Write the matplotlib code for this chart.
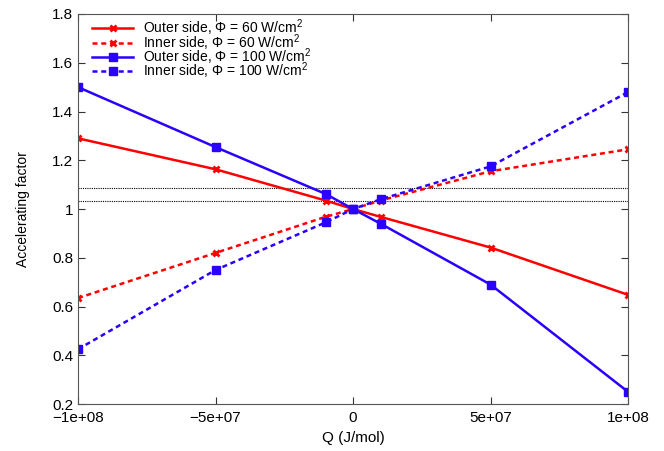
import matplotlib
matplotlib.use("Agg")
import matplotlib.pyplot as plt

plt.rcParams['font.family'] = ['Liberation Sans', 'DejaVu Sans']
plt.rcParams['mathtext.fontset'] = 'custom'
plt.rcParams['mathtext.rm'] = 'Liberation Sans'

q = [-1e8, -5e7, -1e7, 0, 1e7, 5e7, 1e8]
outer_60 = [1.29, 1.163, 1.035, 1.0, 0.968, 0.842, 0.648]
inner_60 = [0.635, 0.82, 0.968, 1.0, 1.035, 1.155, 1.245]
outer_100 = [1.50, 1.254, 1.062, 1.0, 0.94, 0.69, 0.25]
inner_100 = [0.425, 0.75, 0.945, 1.0, 1.04, 1.175, 1.48]
hlines = [1.085, 1.035]

fig = plt.figure(figsize=(6.64, 4.51), dpi=100)
ax = fig.add_axes([0.1175, 0.104, 0.8285, 0.865])

for y in hlines:
    ax.axhline(y, color='black', lw=0.8, ls=(0, (1, 1)))

ax.plot(q, outer_60, color='#ff0000', lw=1.8, marker='x', ms=5, mew=2,
        label='Outer side, $\\Phi$ = 60 W/cm$^2$')
ax.plot(q, inner_60, color='#ff0000', lw=1.8, ls=(0, (2, 1.5)), marker='x', ms=5, mew=2,
        label='Inner side, $\\Phi$ = 60 W/cm$^2$')
ax.plot(q, outer_100, color='#2a00ff', lw=1.8, marker='s', ms=6,
        label='Outer side, $\\Phi$ = 100 W/cm$^2$')
ax.plot(q, inner_100, color='#2a00ff', lw=1.8, ls=(0, (2, 1.5)), marker='s', ms=6,
        label='Inner side, $\\Phi$ = 100 W/cm$^2$')

ax.set_xlim(-1e8, 1e8)
ax.set_ylim(0.2, 1.8)
ax.set_xticks([-1e8, -5e7, 0, 5e7, 1e8])
ax.set_xticklabels(['\u22121e+08', '\u22125e+07', '0', '5e+07', '1e+08'])
ax.set_yticks([0.2, 0.4, 0.6, 0.8, 1.0, 1.2, 1.4, 1.6, 1.8])
ax.set_yticklabels(['0.2', '0.4', '0.6', '0.8', '1', '1.2', '1.4', '1.6', '1.8'])
ax.tick_params(direction='in', top=True, right=True, labelsize=11, length=5, color='#333333')
ax.tick_params(axis='x', pad=5)
for s in ax.spines.values():
    s.set_color('#555555')

ax.set_xlabel('Q (J/mol)', fontsize=11)
ax.set_ylabel('Accelerating factor', fontsize=10, labelpad=16)

# rows packed tight like the original, superscripts run into the next row
ax.legend(loc='upper left', frameon=False, fontsize=10, handlelength=3.0,
          labelspacing=-0.45, borderaxespad=0.0, handletextpad=0.7,
          bbox_to_anchor=(0.015, 1.005))

fig.savefig('out.png', dpi=100)
